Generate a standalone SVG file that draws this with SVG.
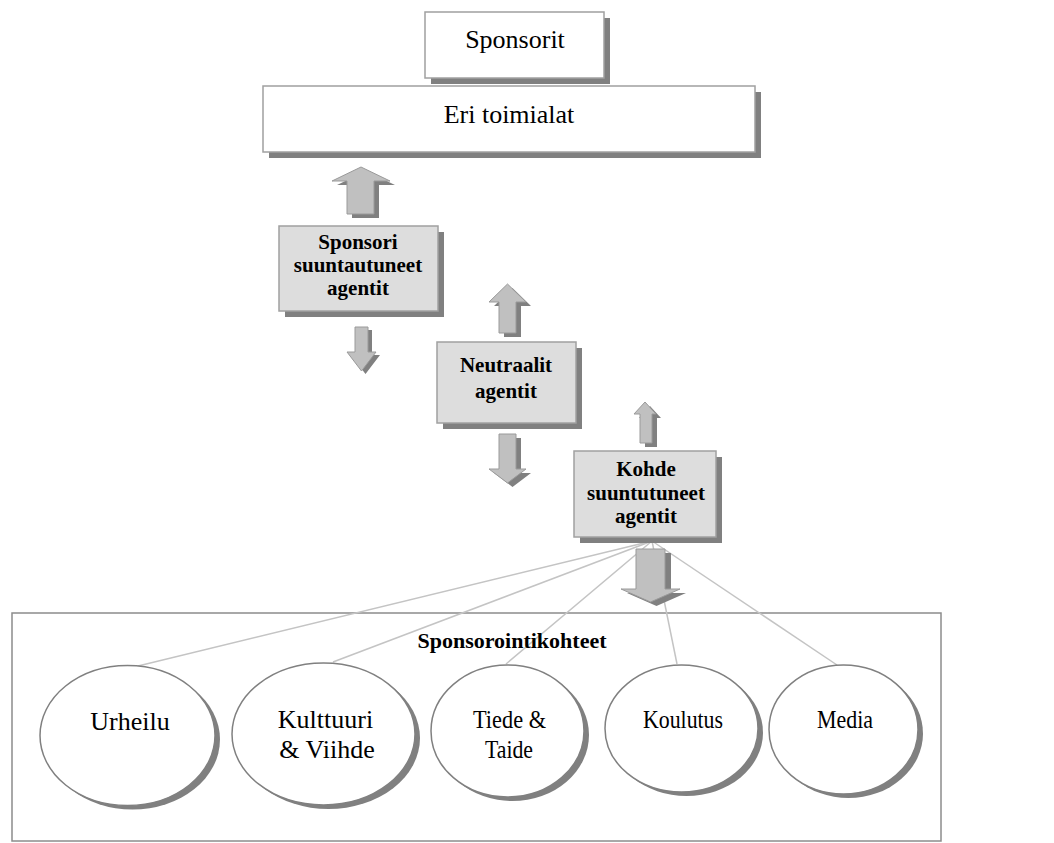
<svg xmlns="http://www.w3.org/2000/svg" width="1054" height="843" viewBox="0 0 1054 843">
  <style>
    .box { fill: #ffffff; stroke: #a0a0a0; stroke-width: 1.5; }
    .agent { fill: #dddddd; stroke: #a0a0a0; stroke-width: 1.5; }
    .shadow { fill: #808080; stroke: none; }
    .oval { fill: #ffffff; stroke: #808080; stroke-width: 1.5; }
    .frame { fill: none; stroke: #8c8c8c; stroke-width: 1.5; }
    .arrow { fill: #c0c0c0; stroke: #9a9a9a; stroke-width: 1; }
    .link { stroke: #c4c4c4; stroke-width: 1.5; fill: none; }
    .t { font-family: "Liberation Serif", "Times New Roman", serif; font-size: 26px; fill: #000; text-anchor: middle; }
    .b { font-family: "Liberation Serif", "Times New Roman", serif; font-size: 21px; font-weight: bold; fill: #000; text-anchor: middle; }
    .title { font-family: "Liberation Serif", "Times New Roman", serif; font-size: 22px; font-weight: bold; fill: #000; text-anchor: middle; }
  </style>

  <!-- outer frame for the sponsorship targets -->
  <rect id="targets-frame" class="frame" x="12" y="613" width="929" height="228"/>

  <!-- top level boxes -->
  <g id="sponsorit">
    <rect class="shadow" x="431" y="18" width="179" height="66"/>
    <rect class="box" x="425" y="12" width="179" height="66"/>
    <text class="t" x="515" y="48">Sponsorit</text>
  </g>
  <g id="eri-toimialat">
    <rect class="shadow" x="269" y="92" width="492" height="66"/>
    <rect class="box" x="263" y="86" width="492" height="66"/>
    <text class="t" x="509" y="123">Eri toimialat</text>
  </g>

  <!-- connectors from the target-oriented agents to each target -->
  <g id="connectors">
    <line class="link" x1="652" y1="541" x2="138" y2="666"/>
    <line class="link" x1="652" y1="541" x2="333" y2="662"/>
    <line class="link" x1="652" y1="541" x2="506" y2="664"/>
    <line class="link" x1="652" y1="541" x2="677" y2="664"/>
    <line class="link" x1="652" y1="541" x2="837" y2="665"/>
  </g>

  <!-- block arrows between the agent levels -->
  <g id="arrows">
    <g id="arrow-up-1">
      <polygon class="shadow" transform="translate(5,4)" points="361,167 390,181 374,181 374,214 347,214 347,181 332,181"/>
      <polygon class="arrow" points="361,167 390,181 374,181 374,214 347,214 347,181 332,181"/>
    </g>
    <g id="arrow-down-1">
      <polygon class="shadow" transform="translate(4,3)" points="355,327 368,327 368,352 376,352 361.5,371 347,352 355,352"/>
      <polygon class="arrow" points="355,327 368,327 368,352 376,352 361.5,371 347,352 355,352"/>
    </g>
    <g id="arrow-up-2">
      <polygon class="shadow" transform="translate(5,4)" points="507.5,284 526,302 516,302 516,333 499,333 499,302 489,302"/>
      <polygon class="arrow" points="507.5,284 526,302 516,302 516,333 499,333 499,302 489,302"/>
    </g>
    <g id="arrow-down-2">
      <polygon class="shadow" transform="translate(5,4)" points="499,434 516,434 516,469 526,469 507.5,483 489,469 499,469"/>
      <polygon class="arrow" points="499,434 516,434 516,469 526,469 507.5,483 489,469 499,469"/>
    </g>
    <g id="arrow-up-3">
      <polygon class="shadow" transform="translate(5,4)" points="645,402 656,414 652,414 652,443 640,443 640,414 634,414"/>
      <polygon class="arrow" points="645,402 656,414 652,414 652,443 640,443 640,414 634,414"/>
    </g>
    <g id="arrow-down-3">
      <polygon class="shadow" transform="translate(6,4)" points="636,549 665,549 665,589 680,589 650.5,602 621,589 636,589"/>
      <polygon class="arrow" points="636,549 665,549 665,589 680,589 650.5,602 621,589 636,589"/>
    </g>
  </g>

  <!-- agent boxes -->
  <g id="sponsori-agentit">
    <rect class="shadow" x="285" y="232" width="159" height="85"/>
    <rect class="agent" x="279" y="226" width="159" height="85"/>
    <text class="b" x="358" y="249">Sponsori</text>
    <text class="b" x="358" y="272">suuntautuneet</text>
    <text class="b" x="358" y="295">agentit</text>
  </g>
  <g id="neutraalit-agentit">
    <rect class="shadow" x="443" y="348" width="139" height="81"/>
    <rect class="agent" x="437" y="342" width="139" height="81"/>
    <text class="b" x="506" y="372">Neutraalit</text>
    <text class="b" x="506" y="398">agentit</text>
  </g>
  <g id="kohde-agentit">
    <rect class="shadow" x="580" y="457" width="142" height="86"/>
    <rect class="agent" x="574" y="451" width="142" height="86"/>
    <text class="b" x="646" y="476">Kohde</text>
    <text class="b" x="646" y="500">suuntutuneet</text>
    <text class="b" x="646" y="523">agentit</text>
  </g>

  <text id="targets-title" class="title" x="512" y="648">Sponsorointikohteet</text>

  <!-- sponsorship targets -->
  <g id="urheilu">
    <ellipse class="shadow" cx="132.5" cy="739.5" rx="87.5" ry="70"/>
    <ellipse class="oval" cx="127.5" cy="735.5" rx="87.5" ry="70"/>
    <text class="t" x="130" y="730">Urheilu</text>
  </g>
  <g id="kulttuuri">
    <ellipse class="shadow" cx="328.5" cy="738" rx="91.5" ry="71"/>
    <ellipse class="oval" cx="323.5" cy="734" rx="91.5" ry="71"/>
    <text class="t" x="325.5" y="728">Kulttuuri</text>
    <text class="t" x="327" y="758">&amp; Viihde</text>
  </g>
  <g id="tiede">
    <ellipse class="shadow" cx="512.5" cy="735" rx="76.5" ry="66"/>
    <ellipse class="oval" cx="507.5" cy="731" rx="76.5" ry="66"/>
    <text class="t" x="509.5" y="728" textLength="73" lengthAdjust="spacingAndGlyphs">Tiede &amp;</text>
    <text class="t" x="509" y="758" textLength="48" lengthAdjust="spacingAndGlyphs">Taide</text>
  </g>
  <g id="koulutus">
    <ellipse class="shadow" cx="686.5" cy="732.5" rx="76.5" ry="63.5"/>
    <ellipse class="oval" cx="681.5" cy="728.5" rx="76.5" ry="63.5"/>
    <text class="t" x="683" y="728" textLength="80" lengthAdjust="spacingAndGlyphs">Koulutus</text>
  </g>
  <g id="media">
    <ellipse class="shadow" cx="848.5" cy="733.5" rx="74.5" ry="64.5"/>
    <ellipse class="oval" cx="843.5" cy="729.5" rx="74.5" ry="64.5"/>
    <text class="t" x="845" y="728" textLength="56" lengthAdjust="spacingAndGlyphs">Media</text>
  </g>
</svg>
